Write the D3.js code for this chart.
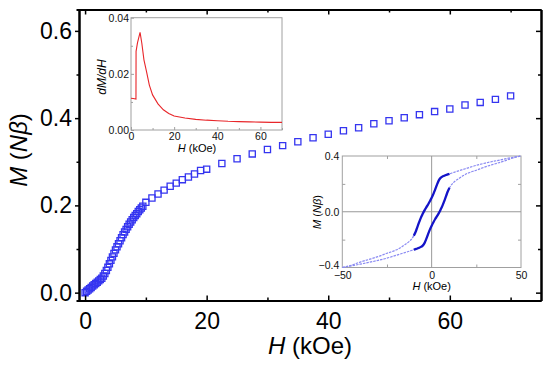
<!DOCTYPE html>
<html>
<head>
<meta charset="utf-8">
<script src="https://cdn.jsdelivr.net/npm/d3@7"></script>
<style>
  body { margin: 0; background: #fff; }
  svg { font-family: "Liberation Sans", Arial, sans-serif; }
</style>
</head>
<body>
<div id="chart"></div>
<script>
// main curve M(H), virgin magnetisation
const fieldH = [0, 0.25, 0.5, 0.75, 1, 1.25, 1.5, 1.75, 2, 2.25, 2.5, 2.75, 3, 3.25, 3.5, 3.75,
  4, 4.25, 4.5, 4.75, 5, 5.25, 5.5, 5.75, 6, 6.25, 6.5, 6.75, 7, 7.25, 7.5, 7.75, 8, 8.25, 8.5,
  8.75, 9, 9.25, 9.5, 10, 11, 12, 13, 14, 15, 16, 17, 18, 19, 20, 22.5, 25, 27.5, 30, 32.5, 35,
  37.5, 40, 42.5, 45, 47.5, 50, 52.5, 55, 57.5, 60, 62.5, 65, 67.5, 70];
const moment = [0, 0.003, 0.006, 0.009, 0.012, 0.015, 0.018, 0.021, 0.024, 0.027, 0.030, 0.033,
  0.038, 0.044, 0.051, 0.058, 0.066, 0.074, 0.082, 0.090, 0.098, 0.105, 0.112, 0.119, 0.126,
  0.133, 0.139, 0.145, 0.151, 0.157, 0.162, 0.167, 0.172, 0.177, 0.181, 0.186, 0.190, 0.194,
  0.198, 0.207, 0.217, 0.226, 0.235, 0.244, 0.251, 0.259, 0.265, 0.272, 0.280, 0.283, 0.296,
  0.307, 0.318, 0.328, 0.337, 0.346, 0.355, 0.363, 0.371, 0.378, 0.387, 0.394, 0.401, 0.408,
  0.415, 0.421, 0.430, 0.436, 0.443, 0.451];
const xTicks = [0, 20, 40, 60];
const xMinor = [10, 30, 50, 70];
const yTicks = [0, 0.2, 0.4, 0.6];
const yMinor = [0.1, 0.3, 0.5];

// inset 1: dM/dH
const derivH = [0, 1, 2.3, 2.35, 3, 4.2, 5, 6, 7.2, 8.5, 10, 12.5, 15, 17.5, 20, 25, 30, 35, 40,
  45, 50, 55, 60, 65, 70];
const derivVal = [0.0113, 0.0112, 0.0110, 0.028, 0.031, 0.0348, 0.031, 0.025, 0.0208, 0.016,
  0.0125, 0.0093, 0.0072, 0.0059, 0.0050, 0.0043, 0.0038, 0.0035, 0.0033, 0.0031, 0.0030,
  0.0029, 0.0028, 0.0027, 0.0027];

// inset 2: hysteresis loop
const loopH = [-50, -45, -40, -35, -30, -25, -20, -17.5, -15, -12.5, -10, -9, -8, -7, -6, -5, -4,
  -3, -2, -1, 0, 1, 2, 3, 4, 5, 6, 7, 8, 9, 10, 12.5, 15, 17.5, 20, 25, 30, 35, 40, 45, 50];
const loopUpper = [-0.400, -0.384, -0.361, -0.342, -0.322, -0.298, -0.275, -0.258, -0.236,
  -0.213, -0.172, -0.145, -0.110, -0.075, -0.042, -0.015, 0.010, 0.032, 0.052, 0.075, 0.100,
  0.128, 0.160, 0.195, 0.225, 0.243, 0.252, 0.258, 0.264, 0.268, 0.272, 0.283, 0.293, 0.303,
  0.313, 0.333, 0.349, 0.363, 0.376, 0.389, 0.400];
const loopLower = [-0.400, -0.389, -0.376, -0.363, -0.349, -0.333, -0.313, -0.303, -0.293,
  -0.283, -0.272, -0.268, -0.264, -0.258, -0.252, -0.243, -0.225, -0.195, -0.160, -0.128,
  -0.100, -0.075, -0.052, -0.032, -0.010, 0.015, 0.042, 0.075, 0.110, 0.145, 0.172, 0.213,
  0.236, 0.258, 0.275, 0.298, 0.322, 0.342, 0.361, 0.384, 0.400];

const svg = d3.select('#chart').append('svg')
  .attr('width', 550)
  .attr('height', 365);

const x = d3.scaleLinear().domain([-1, 75]).range([79, 541]);
const y = d3.scaleLinear().domain([-0.018, 0.649]).range([300.5, 9.5]);

const mainData = fieldH.map((h, i) => ({ h, m: moment[i] }));

// squares
svg.append('g')
  .selectAll('path')
  .data(mainData)
  .enter().append('path')
  .attr('transform', (d) => `translate(${x(d.h)},${y(d.m)})`)
  .attr('d', d3.symbol(d3.symbolSquare, 38))
  .style('fill', 'none')
  .style('stroke', '#3535f0')
  .style('stroke-width', 1.3);

function styleAxis(g, w) {
  g.select('.domain').style('stroke', '#000').style('stroke-width', w);
  g.selectAll('.tick line').style('stroke', '#000').style('stroke-width', 1.5);
}

// left
const left = svg.append('g').attr('transform', `translate(${x.range()[0]},0)`)
  .call(d3.axisLeft(y).tickValues(yTicks).tickSizeInner(4).tickSizeOuter(0).tickPadding(3)
    .tickFormat(d3.format('.1f')));
left.selectAll('text').style('font-size', '23px').style('fill', '#000');
styleAxis(left, 2);
svg.append('g').attr('transform', `translate(${x.range()[0]},0)`)
  .call(d3.axisLeft(y).tickValues(yMinor).tickSize(2.5).tickFormat(''))
  .call((g) => styleAxis(g, 2));

// bottom
const bottom = svg.append('g').attr('transform', `translate(0,${y.range()[0]})`)
  .call(d3.axisBottom(x).tickValues(xTicks).tickSizeInner(-5).tickSizeOuter(0).tickPadding(12));
bottom.selectAll('text').style('font-size', '23px').style('fill', '#000');
styleAxis(bottom, 2);
svg.append('g').attr('transform', `translate(0,${y.range()[0]})`)
  .call(d3.axisBottom(x).tickValues(xMinor).tickSizeInner(-3).tickSizeOuter(0).tickFormat(''))
  .call((g) => styleAxis(g, 2));

// top + right, ticks inward
svg.append('g').attr('transform', `translate(0,${y.range()[1]})`)
  .call(d3.axisTop(x).tickValues(xTicks).tickSizeInner(-5).tickSizeOuter(0).tickFormat(''))
  .call((g) => styleAxis(g, 2));
svg.append('g').attr('transform', `translate(0,${y.range()[1]})`)
  .call(d3.axisTop(x).tickValues(xMinor).tickSizeInner(-3).tickSizeOuter(0).tickFormat(''))
  .call((g) => styleAxis(g, 2));
svg.append('g').attr('transform', `translate(${x.range()[1]},0)`)
  .call(d3.axisRight(y).tickValues(yTicks).tickSizeInner(-5).tickSizeOuter(0).tickFormat(''))
  .call((g) => styleAxis(g, 2));
svg.append('g').attr('transform', `translate(${x.range()[1]},0)`)
  .call(d3.axisRight(y).tickValues(yMinor).tickSizeInner(-3).tickSizeOuter(0).tickFormat(''))
  .call((g) => styleAxis(g, 2));

// axis titles
const xt = svg.append('text')
  .attr('x', 310).attr('y', 354)
  .attr('text-anchor', 'middle')
  .style('font-size', '24px');
xt.append('tspan').style('font-style', 'italic').text('H');
xt.append('tspan').text(' (kOe)');

const yt = svg.append('text')
  .attr('transform', 'translate(27,150) rotate(-90)')
  .attr('text-anchor', 'middle')
  .style('font-size', '24px');
yt.append('tspan').style('font-style', 'italic').text('M');
yt.append('tspan').text(' (');
yt.append('tspan').style('font-style', 'italic').text('Nβ');
yt.append('tspan').text(')');

// ---------- inset helper ----------
function insetFrame(g, sx, sy) {
  g.append('rect')
    .attr('x', sx.range()[0]).attr('y', sy.range()[1])
    .attr('width', sx.range()[1] - sx.range()[0])
    .attr('height', sy.range()[0] - sy.range()[1])
    .style('fill', '#fff')
    .style('stroke', '#a0a0a0')
    .style('stroke-width', 1);
}
function insetTicks(g, axis, tr) {
  const a = g.append('g').attr('transform', tr).call(axis);
  a.select('.domain').remove();
  a.selectAll('.tick line').style('stroke', '#a0a0a0');
  a.selectAll('text').style('font-size', '10.5px').style('fill', '#111');
  return a;
}

// ---------- inset 1 ----------
const x1 = d3.scaleLinear().domain([0, 70]).range([131, 282]);
const y1 = d3.scaleLinear().domain([0, 0.04]).range([130, 17.7]);
const in1 = svg.append('g');
insetFrame(in1, x1, y1);
insetTicks(in1, d3.axisBottom(x1).tickValues([0, 20, 40, 60]).tickSizeInner(-3).tickSizeOuter(0)
  .tickPadding(3), `translate(0,${y1.range()[0]})`);
insetTicks(in1, d3.axisBottom(x1).tickValues([10, 30, 50, 70]).tickSizeInner(-2).tickSizeOuter(0)
  .tickFormat(''), `translate(0,${y1.range()[0]})`);
insetTicks(in1, d3.axisLeft(y1).tickValues([0, 0.02, 0.04]).tickSizeInner(-3).tickSizeOuter(0)
  .tickPadding(2).tickFormat(d3.format('.2f')), `translate(${x1.range()[0]},0)`);
insetTicks(in1, d3.axisLeft(y1).tickValues([0.01, 0.03]).tickSizeInner(-2).tickSizeOuter(0)
  .tickFormat(''), `translate(${x1.range()[0]},0)`);

in1.append('path')
  .datum(derivH.map((h, i) => ({ h, v: derivVal[i] })))
  .attr('d', d3.line().x((d) => x1(d.h)).y((d) => y1(d.v)))
  .style('fill', 'none')
  .style('stroke', '#e8262a')
  .style('stroke-width', 1.1);

const x1t = in1.append('text').attr('x', 197).attr('y', 152)
  .attr('text-anchor', 'middle').style('font-size', '11px');
x1t.append('tspan').style('font-style', 'italic').text('H');
x1t.append('tspan').text(' (kOe)');
in1.append('text')
  .attr('transform', 'translate(106,77) rotate(-90)')
  .attr('text-anchor', 'middle')
  .style('font-size', '12px')
  .style('font-style', 'italic')
  .text('dM/dH');

// ---------- inset 2 ----------
const x2 = d3.scaleLinear().domain([-50, 50]).range([342.3, 521]);
const y2 = d3.scaleLinear().domain([-0.4, 0.4]).range([267.5, 156]);
const in2 = svg.append('g');
insetFrame(in2, x2, y2);
in2.append('line')
  .attr('x1', x2(0)).attr('x2', x2(0)).attr('y1', y2.range()[0]).attr('y2', y2.range()[1])
  .style('stroke', '#999').style('stroke-width', 1);
in2.append('line')
  .attr('x1', x2.range()[0]).attr('x2', x2.range()[1]).attr('y1', y2(0)).attr('y2', y2(0))
  .style('stroke', '#999').style('stroke-width', 1);
insetTicks(in2, d3.axisBottom(x2).tickValues([-50, 0, 50]).tickSizeInner(0).tickSizeOuter(0)
  .tickPadding(4.5), `translate(0,${y2.range()[0]})`);
insetTicks(in2, d3.axisBottom(x2).tickValues([-25, 25]).tickSizeInner(-3).tickSizeOuter(0)
  .tickFormat(''), `translate(0,${y2.range()[0]})`);
insetTicks(in2, d3.axisTop(x2).tickValues([-25, 25]).tickSizeInner(-3).tickSizeOuter(0)
  .tickFormat(''), `translate(0,${y2.range()[1]})`);
const in2y = insetTicks(in2, d3.axisLeft(y2).tickValues([-0.4, 0, 0.4]).tickSizeInner(0)
  .tickSizeOuter(0).tickPadding(3).tickFormat(d3.format('.1f')), `translate(${x2.range()[0]},0)`);
in2y.selectAll('text').filter((d) => d < 0).attr('dy', '0.1em');
insetTicks(in2, d3.axisLeft(y2).tickValues([-0.2, 0.2]).tickSizeInner(-3).tickSizeOuter(0)
  .tickFormat(''), `translate(${x2.range()[0]},0)`);
insetTicks(in2, d3.axisRight(y2).tickValues([-0.2, 0.2]).tickSizeInner(-3).tickSizeOuter(0)
  .tickFormat(''), `translate(${x2.range()[1]},0)`);

const loopLine = d3.line().curve(d3.curveMonotoneX).x((d) => x2(d.h)).y((d) => y2(d.m));
[loopUpper, loopLower].forEach((branch) => {
  const pts = loopH.map((h, i) => ({ h, m: branch[i] }));
  in2.append('path')
    .datum(pts)
    .attr('d', loopLine)
    .style('fill', 'none')
    .style('stroke', '#8a8af2')
    .style('stroke-width', 1.2)
    .style('stroke-dasharray', '2.5,1');
  in2.append('path')
    .datum(pts.filter((d) => Math.abs(d.h) <= 10))
    .attr('d', loopLine)
    .style('fill', 'none')
    .style('stroke', '#1414c8')
    .style('stroke-width', 2.3);
});

const x2t = in2.append('text').attr('x', x2(0)).attr('y', 290)
  .attr('text-anchor', 'middle').style('font-size', '11px');
x2t.append('tspan').style('font-style', 'italic').text('H');
x2t.append('tspan').text(' (kOe)');
const y2t = in2.append('text')
  .attr('transform', 'translate(321,212) rotate(-90)')
  .attr('text-anchor', 'middle').style('font-size', '11px');
y2t.append('tspan').style('font-style', 'italic').text('M');
y2t.append('tspan').text(' (');
y2t.append('tspan').style('font-style', 'italic').text('Nβ');
y2t.append('tspan').text(')');
</script>
</body>
</html>
